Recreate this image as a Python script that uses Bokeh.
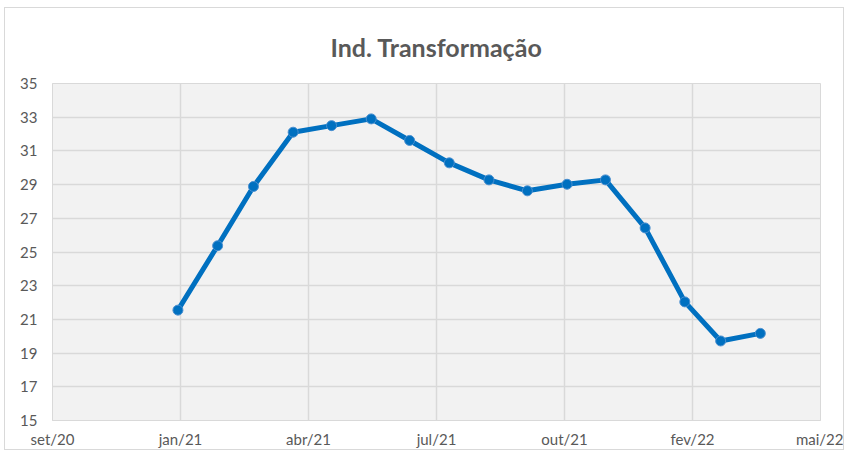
from datetime import datetime, timedelta
from bokeh.plotting import figure
from bokeh.models import FixedTicker, Range1d, Title
from bokeh.embed import file_html
from bokeh.resources import INLINE

# Data
dates = [datetime(2021, m, 1) for m in range(1, 13)] + [datetime(2022, m, 1) for m in range(1, 5)]
values = [21.55, 25.37, 28.89, 32.11, 32.5, 32.9, 31.62, 30.29, 29.28, 28.63, 29.02, 29.28,
          26.43, 22.04, 19.72, 20.17]

x_start = datetime(2020, 9, 25)
x_step_days = 100
x_tick_labels = ["set/20", "jan/21", "abr/21", "jul/21", "out/21", "fev/22", "mai/22"]
y_ticks = [15, 17, 19, 21, 23, 25, 27, 29, 31, 33, 35]

FONT = "Lato"
GREY = "#595959"
GRID = "#d9d9d9"

def ms(d):
    return (d - datetime(1970, 1, 1)).total_seconds() * 1000.0

tick_dates = [x_start + timedelta(days=x_step_days * i) for i in range(len(x_tick_labels))]
tick_ms = [ms(d) for d in tick_dates]

p = figure(width=840, height=443, output_backend="svg", toolbar_location=None,
           x_axis_type="datetime",
           x_range=Range1d(tick_ms[0], tick_ms[-1]), y_range=Range1d(15, 35),
           min_border_left=47, min_border_right=25, min_border_top=73, min_border_bottom=31)

p.title = Title(text="Ind. Transformação", align="center", text_font=FONT,
                text_font_size="25px", text_font_style="bold", text_color=GREY,
                standoff=43)

p.background_fill_color = "#f2f2f2"
p.border_fill_color = "white"
p.outline_line_color = GRID
p.styles = {"border": "1px solid #d9d9d9", "margin-left": "4px", "margin-top": "7px"}

p.xaxis.ticker = FixedTicker(ticks=tick_ms)
p.xaxis.major_label_overrides = {t: lab for t, lab in zip(tick_ms, x_tick_labels)}
p.yaxis.ticker = FixedTicker(ticks=y_ticks)

for ax in (p.xaxis, p.yaxis):
    ax.axis_line_color = GRID
    ax.major_tick_line_color = None
    ax.minor_tick_line_color = None
    ax.major_tick_out = 0
    ax.major_tick_in = 0
    ax.major_label_text_font = FONT
    ax.major_label_text_font_size = "15px"
    ax.major_label_text_color = GREY
p.xaxis.major_label_standoff = 9
p.yaxis.major_label_standoff = 15

p.xgrid.ticker = FixedTicker(ticks=tick_ms)
p.ygrid.ticker = FixedTicker(ticks=y_ticks)
p.grid.grid_line_color = GRID
p.grid.grid_line_width = 1.5

p.line(dates, values, line_color="#0070C0", line_width=5)
p.scatter(dates, values, size=10, fill_color="#0070C0", line_color="#4a8fd0", line_width=1)

open("out.html", "w").write(file_html(p, INLINE))
